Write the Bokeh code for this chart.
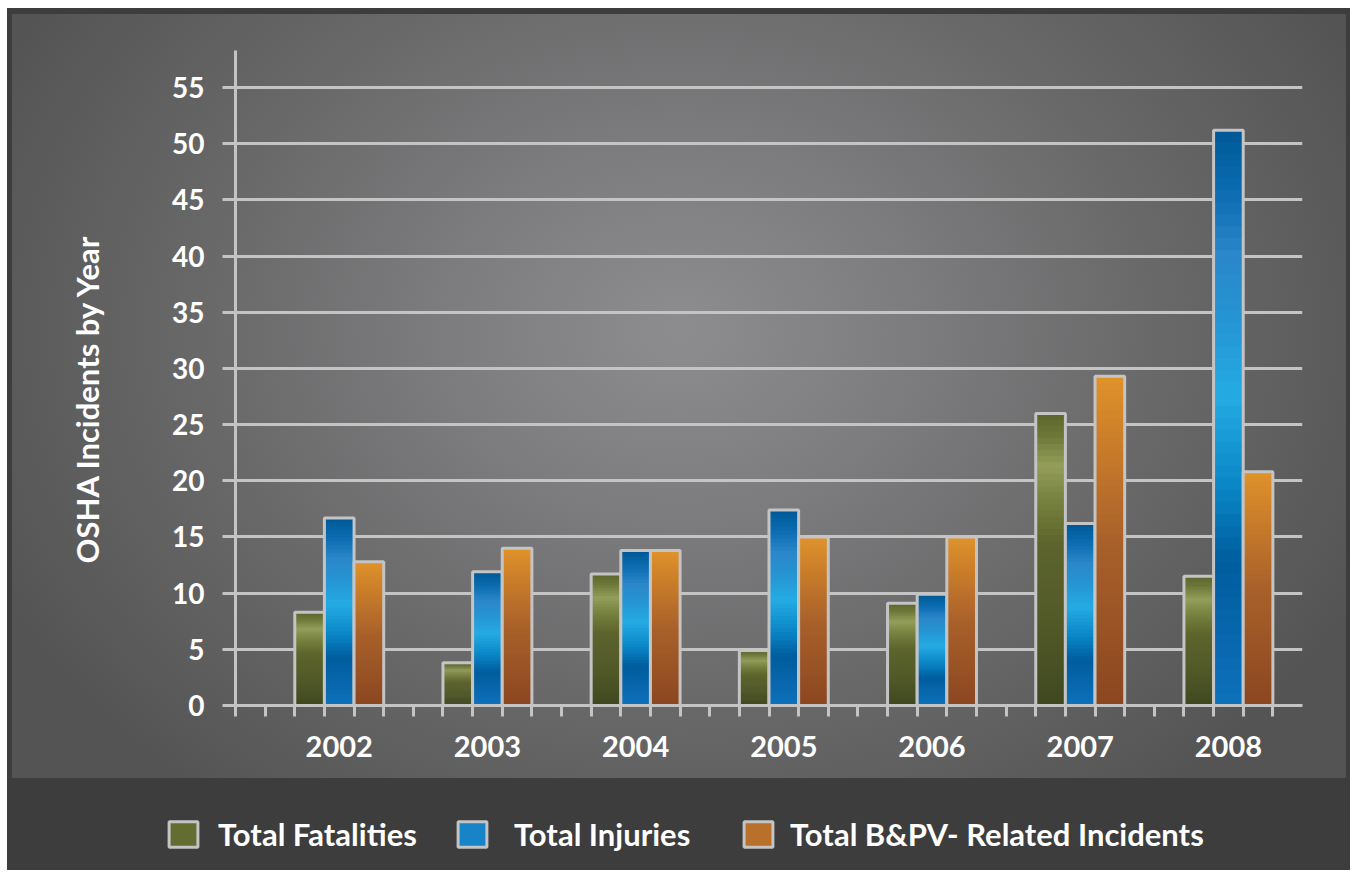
from bokeh.plotting import figure
from bokeh.models import FixedTicker, Legend, LegendItem, Title
from bokeh.embed import file_html
from bokeh.resources import INLINE

# ---- data ----
years = ["2002", "2003", "2004", "2005", "2006", "2007", "2008"]
fatalities = [8.3, 3.8, 11.7, 4.9, 9.1, 26.0, 11.5]
injuries = [16.7, 11.9, 13.8, 17.4, 9.9, 16.2, 51.2]
bpv_incidents = [12.8, 14.0, 13.8, 15.0, 15.0, 29.3, 20.8]
series_names = ["Total Fatalities", "Total Injuries", "Total B&PV- Related Incidents"]
y_ticks = [0, 5, 10, 15, 20, 25, 30, 35, 40, 45, 50, 55]
y_label = "OSHA Incidents by Year"

# ---- styling ----
FONT = "Lato"
GRID = "#c4c4c4"
WHITE = "#ffffff"
green_stops = [(0.0, "#3f4720"), (0.25, "#505828"), (0.55, "#5d642c"), (0.70, "#76803f"),
               (0.82, "#949e5a"), (0.92, "#6e783a"), (1.0, "#5c662c")]
blue_stops = [(0.0, "#0c72bb"), (0.12, "#0867ad"), (0.25, "#005d9d"), (0.38, "#0a86c6"),
              (0.54, "#25abe3"), (0.66, "#2596d3"), (0.78, "#2b87c9"), (0.90, "#0a6bb0"),
              (1.0, "#005894")]
orange_stops = [(0.0, "#8b4620"), (0.5, "#a9612a"), (0.85, "#cf832a"), (1.0, "#e0922a")]
legend_fill = ["#646d31", "#1784c8", "#b8702a"]
legend_x = [165, 454, 740]          # screen position of each legend swatch
legend_standoff = [17, 24, 14]
series_stops = [green_stops, blue_stops, orange_stops]
series_vals = [fatalities, injuries, bpv_incidents]

SLOTS = 5          # slots per year group (2 empty + 3 bars)
N_SLICES = 48


def hex2rgb(h):
    h = h.lstrip("#")
    return tuple(int(h[i:i + 2], 16) for i in (0, 2, 4))


def interp(stops, t):
    for (t0, c0), (t1, c1) in zip(stops[:-1], stops[1:]):
        if t0 <= t <= t1:
            f = 0 if t1 == t0 else (t - t0) / (t1 - t0)
            a, b = hex2rgb(c0), hex2rgb(c1)
            return "#%02x%02x%02x" % tuple(round(a[i] + (b[i] - a[i]) * f) for i in range(3))
    return stops[-1][1]


n_years = len(years)
x_end = SLOTS * n_years + 1

# ================= main chart =================
p = figure(width=1356, height=778, x_range=(0, x_end), y_range=(0, 58.3),
           output_backend="svg", toolbar_location=None,
           min_border_left=235, min_border_right=54, min_border_top=50, min_border_bottom=73)
p.background_fill_color = None
p.border_fill_color = None
p.outline_line_color = None
p.styles = {
    "background": (
        "radial-gradient(ellipse 760px 600px at 668px 316px, #8d8d8f 0%, #7d7d7f 30%, "
        "#69696a 62%, #545455 100%) 12px 14px / 1334px 764px no-repeat, "
        "linear-gradient(#3d3d3d, #3d3d3d) 7px 8px / 1343px 770px no-repeat, #ffffff"
    ),
}

for s, (vals, stops) in enumerate(zip(series_vals, series_stops)):
    xs = [SLOTS * k + 2.5 + s for k in range(n_years)]
    left, right, bottom, top, color = [], [], [], [], []
    for xc, v in zip(xs, vals):
        for i in range(N_SLICES):
            left.append(xc - 0.5)
            right.append(xc + 0.5)
            bottom.append(v * i / N_SLICES)
            top.append(min(v, v * (i + 1.4) / N_SLICES))
            color.append(interp(stops, (i + 0.5) / N_SLICES))
    p.quad(left=left, right=right, bottom=bottom, top=top, fill_color=color, line_color=None)
    p.vbar(x=xs, top=vals, width=1, fill_color=None, line_color=GRID, line_width=3)

p.xgrid.visible = False
p.ygrid.ticker = FixedTicker(ticks=y_ticks[1:])
p.ygrid.grid_line_color = GRID
p.ygrid.grid_line_width = 3

ya = p.yaxis[0]
ya.ticker = FixedTicker(ticks=y_ticks)
ya.axis_line_color = GRID
ya.axis_line_width = 3
ya.major_tick_line_color = GRID
ya.major_tick_line_width = 3
ya.major_tick_out = 13
ya.major_tick_in = 0
ya.minor_tick_line_color = None
ya.major_label_text_font = FONT
ya.major_label_text_font_style = "bold"
ya.major_label_text_font_size = "28px"
ya.major_label_text_color = WHITE
ya.major_label_standoff = 18

# y-axis title on the left side, starting a little above the frame bottom
p.add_layout(Title(text=y_label, align="left", offset=142, vertical_align="top",
                   standoff=124, text_font=FONT, text_font_style="bold",
                   text_font_size="31px", text_color=WHITE), "left")

xa = p.xaxis[0]
label_pos = [SLOTS * k + 3.5 for k in range(n_years)]
xa.ticker = FixedTicker(ticks=label_pos, minor_ticks=list(range(0, SLOTS * n_years + 1)))
xa.major_label_overrides = {pos: yr for pos, yr in zip(label_pos, years)}
xa.axis_line_color = GRID
xa.axis_line_width = 3
xa.major_tick_line_color = None
xa.major_tick_out = 0
xa.major_tick_in = 0
xa.minor_tick_line_color = GRID
xa.minor_tick_line_width = 3
xa.minor_tick_out = 11
xa.minor_tick_in = 0
xa.major_label_text_font = FONT
xa.major_label_text_font_style = "bold"
xa.major_label_text_font_size = "29px"
xa.major_label_text_color = WHITE
xa.major_label_standoff = 19

# ================= legend band =================
lp = figure(width=1356, height=95, x_range=(0, x_end), y_range=(0, 58.3),
            output_backend="svg", toolbar_location=None, min_border=0,
            x_axis_type=None, y_axis_type=None)
lp.background_fill_color = None
lp.border_fill_color = None
lp.outline_line_color = None
lp.grid.visible = False
lp.styles = {
    "background": "linear-gradient(#3d3d3d, #3d3d3d) 7px 0px / 1343px 92px no-repeat, #ffffff",
}

for s, vals in enumerate(series_vals):
    xs = [SLOTS * k + 2.5 + s for k in range(n_years)]
    proxy = lp.vbar(x=xs, top=vals, width=1, fill_color=legend_fill[s],
                    line_color=GRID, line_width=3, visible=False)
    lg = Legend(items=[LegendItem(label=series_names[s], renderers=[proxy])],
                location=(legend_x[s], 20),
                background_fill_alpha=0, border_line_color=None,
                label_text_font=FONT, label_text_font_style="bold",
                label_text_font_size="31px", label_text_color=WHITE,
                glyph_width=36, glyph_height=32, label_standoff=legend_standoff[s],
                padding=0, margin=0)
    lp.add_layout(lg)

open("out.html", "w").write(file_html([p, lp], INLINE))
